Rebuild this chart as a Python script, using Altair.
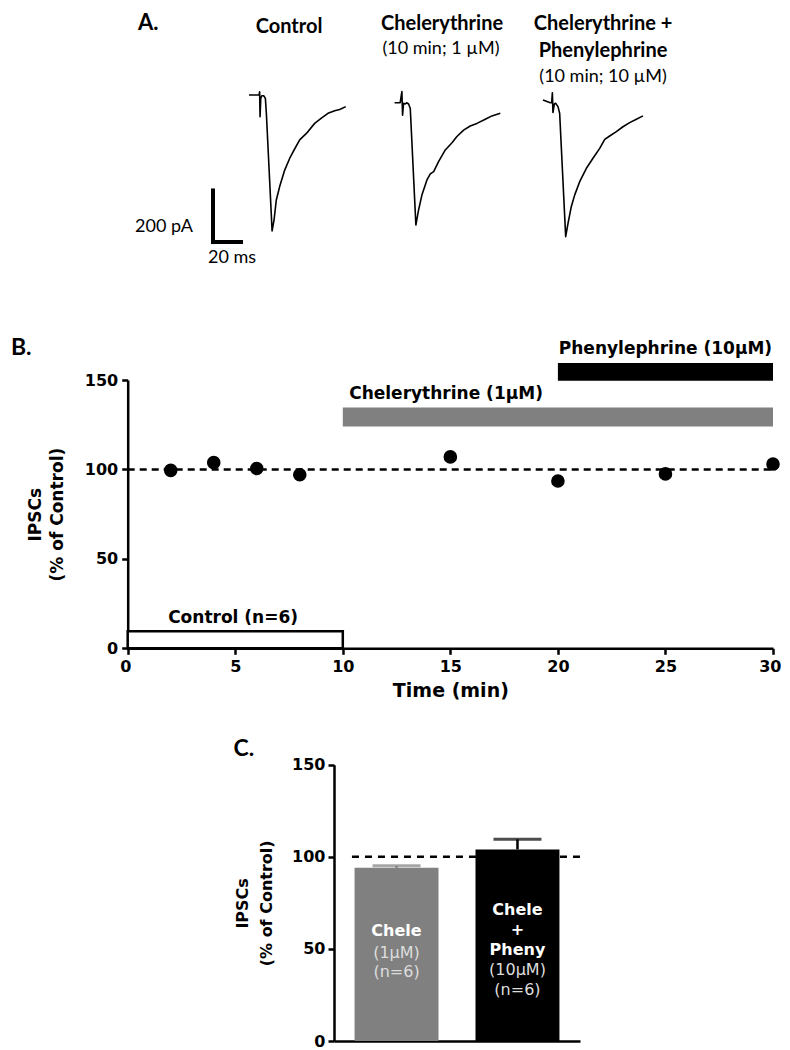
import altair as alt
import pandas as pd

# ---------------- data ----------------
# Panel A: representative IPSC traces (time from trace start in ms, current in pA)
trace_names = ["Control", "Chelerythrine", "Chelerythrine + Phenylephrine"]
trace_start_ms = [35, 139, 245]

control_t = [0, 7.2, 7.6, 7.9, 8.4, 9.1, 10.5, 11.7, 12.4, 16.5, 17.9, 19.5, 21.9, 25.5,
             29.1, 31.5, 36.2, 41.0, 46.9, 51.7, 56.4, 61.2, 64.8, 69.1]
control_pa = [0, 0, 12, -84, -13, -3, -3, -13, -71, -527, -484, -407, -355, -291,
              -245, -220, -174, -149, -110, -90, -71, -61, -56, -45]
chele_t = [0, 4.0, 5.2, 5.7, 6.4, 7.6, 8.6, 10.0, 11.2, 15.2, 17.1, 19.5, 23.1, 25.5,
           27.9, 31.4, 36.2, 41.0, 44.5, 49.3, 54.0, 58.8, 64.8, 69.5, 75.5]
chele_pa = [-30, -30, 13, -78, -32, -35, -30, -35, -52, -504, -446, -388, -329, -306,
            -297, -258, -213, -185, -161, -136, -120, -110, -94, -81, -71]
pheny_t = [0, 5.2, 6.2, 6.7, 7.1, 8.1, 9.0, 10.7, 11.9, 16.2, 17.9, 20.2, 22.6, 26.2,
           31.0, 35.7, 40.5, 44.1, 47.6, 52.4, 57.1, 61.9, 66.7, 71.4]
pheny_pa = [-19, -30, -30, 9, -68, -35, -32, -45, -71, -549, -497, -433, -388, -336,
            -284, -245, -207, -172, -159, -142, -123, -107, -94, -81]

scalebar_ms = 20
scalebar_pa = 200

# Panel B: time course
time_min = [2, 4, 6, 8, 15, 20, 25, 30]
ipsc_pct = [99.5, 103.8, 100.5, 97, 107, 93.5, 97.5, 103]

period_labels = ["Control (n=6)", "Chelerythrine (1µM)", "Phenylephrine (10µM)"]
period_start = [0, 10, 20]
period_end = [10, 30, 30]

# Panel C: summary bars
bar_cats = ["Chele", "Chele + Pheny"]
bar_mean = [94, 104]
bar_sem = [1.1, 5.5]

# ---------------- scales (each panel placed through its scale range) ----------------
W, H = 774, 1042
C0 = 1033  # plot-area y of panel C baseline
xA = alt.Scale(domain=[0, 330], range=[192, 654], nice=False, zero=False)
yA = alt.Scale(domain=[-700, 300], range=[267.6, 9.6], nice=False, zero=False)
xB = alt.Scale(domain=[0, 30], range=[119.7, 765], nice=False, zero=False)
yB = alt.Scale(domain=[0, 150], range=[640.3, 372], nice=False, zero=False)
xC = alt.Scale(type="band", domain=bar_cats, range=[326, 572], paddingInner=0.306, paddingOuter=0.17)
xCr = alt.Scale(domain=[0, 1], range=[326, 572], nice=False, zero=False)
yC = alt.Scale(domain=[0, 150], range=[C0, C0 - 276.3], nice=False, zero=False)

FB = "DejaVu Sans"
FA = "Lato"


def X(f, s, **k):
    return alt.X(f, scale=s, axis=k.pop("axis", None), **k)


def Y(f, s, **k):
    return alt.Y(f, scale=s, axis=k.pop("axis", None), **k)


layers = []

# ---------------- Panel A ----------------
rows = []
for name, start, ts, pas in zip(trace_names, trace_start_ms,
                                [control_t, chele_t, pheny_t],
                                [control_pa, chele_pa, pheny_pa]):
    for k, (t, p) in enumerate(zip(ts, pas)):
        rows.append({"trace": name, "k": k, "ms": start + t, "pa": p})
traces = pd.DataFrame(rows)

layers.append(
    alt.Chart(traces).mark_line(color="black", strokeWidth=1.6, strokeJoin="round").encode(
        x=X("ms:Q", xA), y=Y("pa:Q", yA), detail="trace:N", order="k:Q")
)

sb0x, sb0y = 9.3, -570
sb = pd.DataFrame({"x": [sb0x, sb0x], "x2": [sb0x, sb0x + scalebar_ms],
                   "y": [sb0y, sb0y], "y2": [sb0y + scalebar_pa, sb0y]})
layers.append(
    alt.Chart(sb).mark_rule(color="black", strokeWidth=4, strokeCap="square").encode(
        x=X("x:Q", xA), x2="x2:Q", y=Y("y:Q", yA), y2="y2:Q")
)

a_bold = pd.DataFrame({"x": [63.6, 172.9, 287.9, 287.9], "y": [265, 275, 275, 172],
                       "t": ["Control", "Chelerythrine", "Chelerythrine +", "Phenylephrine"]})
a_reg = pd.DataFrame({"x": [172.1, 287.9, -25.7, 22.9], "y": [177, 69, -510, -632],
                      "t": ["(10 min; 1 µM)", "(10 min; 10 µM)",
                            f"{scalebar_pa} pA", f"{scalebar_ms} ms"]})
layers.append(
    alt.Chart(a_bold).mark_text(font=FA, fontWeight="bold", fontSize=20, color="black",
                                align="center", baseline="middle").encode(
        x=X("x:Q", xA), y=Y("y:Q", yA), text="t:N")
)
layers.append(
    alt.Chart(a_reg).mark_text(font=FA, fontSize=18, color="black",
                               align="center", baseline="middle").encode(
        x=X("x:Q", xA), y=Y("y:Q", yA), text="t:N")
)
layers.append(
    alt.Chart(pd.DataFrame({"x": [-37], "y": [281], "t": ["A."]})).mark_text(
        font=FA, fontWeight="bold", fontSize=22, color="black", align="center", baseline="middle").encode(
        x=X("x:Q", xA), y=Y("y:Q", yA), text="t:N")
)

# ---------------- Panel B ----------------
ctrl_df = pd.DataFrame({"x": [period_start[0]], "x2": [period_end[0]], "y": [0], "y2": [9.5]})
layers.append(
    alt.Chart(ctrl_df).mark_rect(fill="white", stroke="black", strokeWidth=2.5).encode(
        x=X("x:Q", xB), x2="x2:Q", y=Y("y:Q", yB), y2="y2:Q")
)
drug_df = pd.DataFrame({"label": period_labels[1:], "x": period_start[1:], "x2": period_end[1:],
                        "y": [124, 149.6], "y2": [134.6, 159.5]})
layers.append(
    alt.Chart(drug_df).mark_rect().encode(
        x=X("x:Q", xB), x2="x2:Q", y=Y("y:Q", yB), y2="y2:Q",
        color=alt.Color("label:N", scale=alt.Scale(domain=period_labels[1:], range=["#808080", "#000000"]),
                        legend=None))
)
layers.append(
    alt.Chart(pd.DataFrame({"x": [0], "x2": [30], "y": [100]})).mark_rule(
        color="black", strokeWidth=2.5, strokeDash=[7, 5]).encode(
        x=X("x:Q", xB), x2="x2:Q", y=Y("y:Q", yB))
)
pts = pd.DataFrame({"t": time_min, "v": ipsc_pct})
layers.append(
    alt.Chart(pts).mark_circle(size=185, color="black", opacity=1).encode(
        x=alt.X("t:Q", scale=xB, axis=alt.Axis(
            orient="bottom", offset=640.3 - H, values=[0, 5, 10, 15, 20, 25, 30], grid=False,
            domainColor="black", domainWidth=2.5, tickColor="black", tickWidth=2.5, tickSize=6,
            labelFont=FB, labelFontWeight="bold", labelFontSize=16, labelColor="black",
            labelPadding=4, labelFlush=True, labelFlushOffset=8, labelOverlap=False,
            title="Time (min)", titleFont=FB, titleFontWeight="bold", titleFontSize=19,
            titleColor="black", titlePadding=7)),
        y=alt.Y("v:Q", scale=yB, axis=alt.Axis(
            orient="left", offset=-119.7, values=[0, 50, 100, 150], grid=False,
            domainColor="black", domainWidth=2.5, tickColor="black", tickWidth=2.5, tickSize=6,
            labelFont=FB, labelFontWeight="bold", labelFontSize=16, labelColor="black",
            labelPadding=4, labelOverlap=False,
            title=["IPSCs", "(% of Control)"], titleFont=FB, titleFontWeight="bold",
            titleFontSize=17, titleColor="black", titlePadding=18, titleLineHeight=22)),
    )
)
lab_df = pd.DataFrame({"t": period_labels, "x": [4.9, 14.8, 25.0], "y": [17, 142.3, 167.5]})
layers.append(
    alt.Chart(lab_df).mark_text(font=FB, fontWeight="bold", fontSize=17, color="black",
                                align="center", baseline="middle").encode(
        x=X("x:Q", xB), y=Y("y:Q", yB), text="t:N")
)
layers.append(
    alt.Chart(pd.DataFrame({"x": [-4.95], "y": [168], "t": ["B."]})).mark_text(
        font=FA, fontWeight="bold", fontSize=23, color="black", align="center", baseline="middle").encode(
        x=X("x:Q", xB), y=Y("y:Q", yB), text="t:N")
)

# ---------------- Panel C ----------------
layers.append(
    alt.Chart(pd.DataFrame({"x": [0.073], "x2": [1.0], "y": [100]})).mark_rule(
        color="black", strokeWidth=2.5, strokeDash=[7, 6]).encode(
        x=X("x:Q", xCr), x2="x2:Q", y=Y("y:Q", yC))
)
bars = pd.DataFrame({"cat": bar_cats, "mean": bar_mean,
                     "top": [m + s for m, s in zip(bar_mean, bar_sem)]})
colC = alt.Scale(domain=bar_cats, range=["#808080", "#000000"])
layers.append(
    alt.Chart(bars).mark_rule(strokeWidth=2.5).encode(
        x=X("cat:N", xC), y=Y("mean:Q", yC), y2="top:Q",
        color=alt.Color("cat:N", scale=colC, legend=None))
)
layers.append(
    alt.Chart(bars).mark_tick(orient="horizontal", size=48, thickness=3).encode(
        x=X("cat:N", xC), y=Y("top:Q", yC),
        color=alt.Color("cat:N", scale=colC, legend=None))
)
layers.append(
    alt.Chart(bars).mark_bar().encode(
        x=alt.X("cat:N", scale=xC, axis=alt.Axis(
            orient="bottom", offset=C0 - H, labels=False, ticks=False, title=None,
            domainColor="black", domainWidth=2.5, grid=False)),
        y=alt.Y("mean:Q", scale=yC, axis=alt.Axis(
            orient="left", offset=-326, values=[0, 50, 100, 150], grid=False,
            domainColor="black", domainWidth=2.5, tickColor="black", tickWidth=2.5, tickSize=6,
            labelFont=FB, labelFontWeight="bold", labelFontSize=16, labelColor="black",
            labelPadding=3, labelOverlap=False,
            title=["IPSCs", "(% of Control)"], titleFont=FB, titleFontWeight="bold",
            titleFontSize=16, titleColor="black", titlePadding=17, titleLineHeight=24)),
        color=alt.Color("cat:N", scale=colC, legend=None))
)
bold_txt = pd.DataFrame({"cat": [bar_cats[0], bar_cats[1], bar_cats[1], bar_cats[1]],
                         "y": [59.7, 71.1, 60.4, 49.6],
                         "t": ["Chele", "Chele", "+", "Pheny"]})
reg_txt = pd.DataFrame({"cat": [bar_cats[0], bar_cats[0], bar_cats[1], bar_cats[1]],
                        "y": [47.8, 37.5, 38.7, 27.7],
                        "t": ["(1µM)", "(n=6)", "(10µM)", "(n=6)"]})
layers.append(
    alt.Chart(bold_txt).mark_text(font=FB, fontWeight="bold", fontSize=16, color="white",
                                  align="center", baseline="middle").encode(
        x=X("cat:N", xC), y=Y("y:Q", yC), text="t:N")
)
layers.append(
    alt.Chart(reg_txt).mark_text(font=FB, fontSize=16, color="#dddddd",
                                 align="center", baseline="middle").encode(
        x=X("cat:N", xC), y=Y("y:Q", yC), text="t:N")
)
layers.append(
    alt.Chart(pd.DataFrame({"x": [-0.366], "y": [158.5], "t": ["C."]})).mark_text(
        font=FA, fontWeight="bold", fontSize=23, color="black", align="center", baseline="middle").encode(
        x=X("x:Q", xCr), y=Y("y:Q", yC), text="t:N")
)

chart = alt.layer(*layers).resolve_scale(
    x="independent", y="independent", color="independent"
).properties(
    width=W, height=H, autosize=alt.AutoSizeParams(type="none"), padding=0
).configure_view(stroke=None)

chart.save("out.html", embed_options={"renderer": "svg", "actions": False})
